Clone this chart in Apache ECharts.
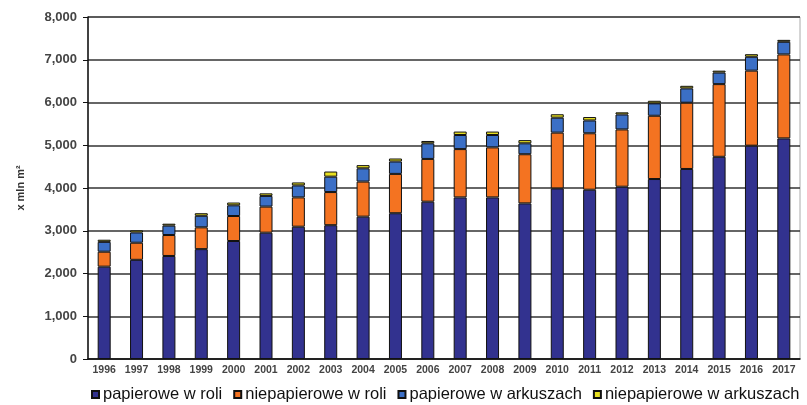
<!DOCTYPE html>
<html>
<head>
<meta charset="utf-8">
<script src="https://cdn.jsdelivr.net/npm/echarts@6/dist/echarts.min.js"></script>
<style>
html, body { margin: 0; padding: 0; background: #fff; }
#main { width: 807px; height: 405px; }
</style>
</head>
<body>
<div id="main"></div>
<script>
// data (mln m2)
var years = ['1996', '1997', '1998', '1999', '2000', '2001', '2002', '2003', '2004', '2005', '2006',
    '2007', '2008', '2009', '2010', '2011', '2012', '2013', '2014', '2015', '2016', '2017'];
var papieroweRoli = [2160, 2320, 2410, 2570, 2760, 2955, 3095, 3130, 3330, 3410, 3680,
    3780, 3780, 3640, 3990, 3960, 4030, 4210, 4445, 4730, 4990, 5160];
var niepapieroweRoli = [350, 400, 490, 510, 585, 610, 685, 775, 820, 920, 1000,
    1130, 1170, 1150, 1305, 1320, 1340, 1480, 1550, 1700, 1755, 1965];
var papieroweArkusze = [230, 240, 220, 270, 250, 250, 280, 360, 310, 290, 365,
    330, 290, 255, 350, 300, 350, 290, 335, 270, 325, 295];
var niepapieroweArkusze = [50, 50, 45, 60, 65, 60, 70, 120, 75, 70, 55,
    80, 80, 75, 80, 80, 50, 60, 60, 45, 60, 45];
var seriesNames = ['papierowe w roli', 'niepapierowe w roli', 'papierowe w arkuszach', 'niepapierowe w arkuszach'];
var seriesColors = ['#32328f', '#f47321', '#3b6fc6', '#e8e020'];

var chartDom = document.getElementById('main');
var myChart = echarts.init(chartDom);
var option;

var allData = [papieroweRoli, niepapieroweRoli, papieroweArkusze, niepapieroweArkusze];
var series = allData.map(function (d, i) {
    return {
        name: seriesNames[i],
        type: 'bar',
        stack: 'total',
        barWidth: 13,
        data: d,
        itemStyle: {
            color: seriesColors[i],
            borderColor: '#111',
            borderWidth: 1
        }
    };
});

option = {
    animation: false,
    textStyle: {
        fontFamily: 'Liberation Sans, Arial, sans-serif'
    },
    grid: {
        left: 88,
        right: 7,
        top: 17,
        bottom: 46,
        show: true,
        borderColor: '#aaa',
        borderWidth: 1
    },
    legend: {
        left: 86,
        top: 381,
        width: 721,
        itemWidth: 7,
        itemHeight: 7,
        itemGap: 11,
        icon: 'rect',
        textStyle: {
            fontSize: 16.5,
            color: '#111',
            padding: [0, 0, 0, -1]
        },
        data: seriesNames
    },
    xAxis: {
        type: 'category',
        data: years,
        axisLine: {
            lineStyle: { color: '#111', width: 1.5 }
        },
        axisTick: {
            length: 3,
            lineStyle: { color: '#111' }
        },
        axisLabel: {
            fontSize: 10.5,
            fontWeight: 'bold',
            color: '#444',
            margin: 6,
            interval: 0
        }
    },
    yAxis: {
        type: 'value',
        min: 0,
        max: 8000,
        interval: 1000,
        name: 'x mln m²',
        nameLocation: 'middle',
        nameGap: 62,
        nameTextStyle: {
            fontSize: 11,
            fontWeight: 'bold',
            color: '#333'
        },
        axisLine: {
            show: true,
            lineStyle: { color: '#111', width: 1.5 }
        },
        axisTick: {
            show: true,
            length: 5,
            lineStyle: { color: '#111' }
        },
        axisLabel: {
            fontSize: 13,
            fontWeight: 'bold',
            color: '#444',
            margin: 11,
            formatter: function (value) {
                return value === 0 ? '0' : value.toLocaleString('en-US');
            }
        },
        splitLine: {
            lineStyle: { color: '#333', width: 1.5 }
        }
    },
    series: series
};

option && myChart.setOption(option);
window.addEventListener("resize", function () {
    myChart.resize();
})
</script>
</body>
</html>
